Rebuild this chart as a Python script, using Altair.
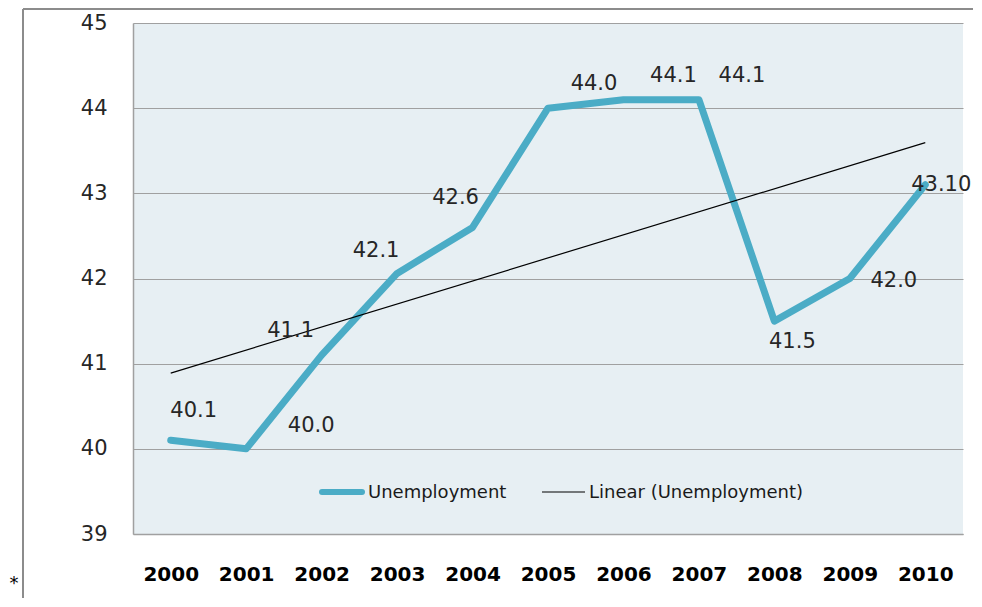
import altair as alt
import pandas as pd

years = [2000, 2001, 2002, 2003, 2004, 2005, 2006, 2007, 2008, 2009, 2010]
values = [40.1, 40.0, 41.1, 42.06, 42.6, 44.0, 44.1, 44.1, 41.5, 42.0, 43.1]
value_labels = ["40.1", "40.0", "41.1", "42.1", "42.6", "44.0", "44.1", "44.1", "41.5", "42.0", "43.10"]
y_ticks = [39, 40, 41, 42, 43, 44, 45]
series_names = ["Unemployment", "Linear (Unemployment)"]
series_colors = ["#4bacc6", "#000000"]
label_dx = [23, 65, -31, -21, -17, 46, 50, 43, 18, 44, 16]
label_dy = [-29, -23, -24, -22, -29, -24, -24, -24, 21, 2, 0]

df = pd.DataFrame({"year": years, "value": values, "label": value_labels,
                   "series": series_names[0]})

FONT = "DejaVu Sans"
GRID = "#a0a0a0"

x = alt.X("year:Q",
          scale=alt.Scale(domain=[1999.5, 2010.5], nice=False, zero=False),
          axis=alt.Axis(values=years, format="d", title=None, grid=False, ticks=False,
                        domainColor=GRID, domainWidth=1.5, labelFont=FONT,
                        labelFontWeight="bold", labelFontSize=20, labelColor="#000000",
                        labelPadding=30, labelFlush=False))
y = alt.Y("value:Q",
          scale=alt.Scale(domain=[39, 45], nice=False, zero=False),
          axis=alt.Axis(values=y_ticks, title=None, ticks=False, grid=True,
                        gridColor=GRID, gridWidth=1.2, domainColor=GRID, domainWidth=1.5,
                        labelFont=FONT, labelFontSize=21, labelColor="#262626",
                        labelPadding=26))
color = alt.Color("series:N",
                  scale=alt.Scale(domain=series_names, range=series_colors),
                  legend=None)

base = alt.Chart(df)

main = base.mark_line(strokeWidth=7, strokeJoin="round", strokeCap="round").encode(
    x=x, y=y, color=color)

trend = base.transform_regression("year", "value").transform_calculate(
    series="'Linear (Unemployment)'"
).mark_line(strokeWidth=1.2).encode(x=x, y=y, color=color)

label_layers = []
for i, yr in enumerate(years):
    label_layers.append(
        base.transform_filter(alt.datum.year == yr).mark_text(
            dx=label_dx[i], dy=label_dy[i], font=FONT, fontSize=21, color="#262626",
            baseline="middle", align="center"
        ).encode(x=x, y=y, text="label:N")
    )

# legend (drawn inside the plot area, as in the reference)
leg1 = pd.DataFrame({"s": [series_names[0]]})
leg2 = pd.DataFrame({"s": [series_names[1]]})
leg_sym1 = alt.Chart(leg1).mark_rule(color=series_colors[0], strokeWidth=6, strokeCap="round").encode(
    x=alt.value(189), x2=alt.value(229), y=alt.value(469))
leg_txt1 = alt.Chart(leg1).mark_text(align="left", baseline="middle", font=FONT, fontSize=18,
                                     color="#1a1a1a").encode(
    x=alt.value(235), y=alt.value(470), text="s:N")
leg_sym2 = alt.Chart(leg2).mark_rule(color=series_colors[1], strokeWidth=1.2).encode(
    x=alt.value(409), x2=alt.value(452), y=alt.value(469))
leg_txt2 = alt.Chart(leg2).mark_text(align="left", baseline="middle", font=FONT, fontSize=18,
                                     color="#1a1a1a").encode(
    x=alt.value(456), y=alt.value(470), text="s:N")

dummy = pd.DataFrame({"a": [0]})
top_border = alt.Chart(dummy).mark_rule(color="#8c8c8c", strokeWidth=2).encode(
    x=alt.value(-110), x2=alt.value(841), y=alt.value(-14))
left_border = alt.Chart(dummy).mark_rule(color="#8c8c8c", strokeWidth=2).encode(
    x=alt.value(-110), y=alt.value(-14), y2=alt.value(576))
star = alt.Chart(dummy).mark_text(text="*", fontSize=18, font=FONT, color="#000000",
                                  baseline="middle").encode(
    x=alt.value(-119), y=alt.value(561))

chart = alt.layer(main, trend, *label_layers, leg_sym1, leg_txt1, leg_sym2, leg_txt2,
                  top_border, left_border, star).properties(
    width=830, height=511,
    background="#ffffff",
    autosize=alt.AutoSizeParams(type="none"),
    padding={"left": 125, "top": 15, "right": 10, "bottom": 64},
).configure_view(stroke=None, fill="#e7eff3")

chart.save("out.html", embed_options={"renderer": "svg", "actions": False})
